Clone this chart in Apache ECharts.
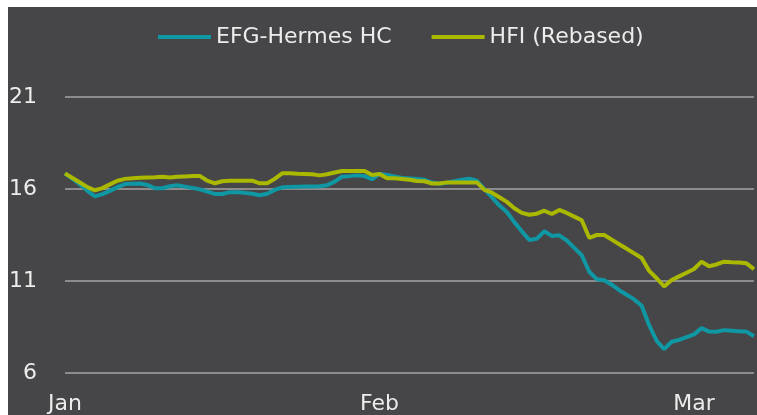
<!DOCTYPE html>
<html>
<head>
<meta charset="utf-8">
<script src="https://cdn.jsdelivr.net/npm/echarts@6/dist/echarts.min.js"></script>
<style>
  html, body { margin: 0; padding: 0; background: #fff; }
  #chart { width: 757px; height: 415px; }
</style>
</head>
<body>
<div id="chart"></div>
<script>
// month labels, one every 42 trading points
var months = ['Jan', 'Feb', 'Mar'];
var pointsPerMonth = 42;

var efgHermes = [
    16.85, 16.55, 16.25, 15.9, 15.6, 15.72, 15.9, 16.1, 16.27, 16.29,
    16.3, 16.22, 16.04, 16.04, 16.15, 16.2, 16.13, 16.06, 15.98, 15.86,
    15.73, 15.73, 15.83, 15.82, 15.79, 15.74, 15.66, 15.74, 15.95, 16.09,
    16.11, 16.12, 16.13, 16.14, 16.15, 16.2, 16.4, 16.67, 16.7, 16.74,
    16.7, 16.53, 16.82, 16.76, 16.68, 16.6, 16.57, 16.54, 16.5, 16.35,
    16.29, 16.34, 16.42, 16.5, 16.56, 16.45, 16.0, 15.55, 15.1, 14.75,
    14.2, 13.7, 13.23, 13.3, 13.7, 13.45, 13.48, 13.2, 12.8, 12.4,
    11.5, 11.1, 11.04, 10.8, 10.5, 10.25, 10.0, 9.65, 8.6, 7.75,
    7.3, 7.7, 7.8, 7.95, 8.1, 8.44, 8.25, 8.24, 8.33, 8.3,
    8.27, 8.25, 8.0
];

var hfiRebased = [
    16.85, 16.6, 16.35, 16.1, 15.93, 16.05, 16.25, 16.45, 16.55, 16.58,
    16.61, 16.63, 16.64, 16.66, 16.63, 16.66, 16.68, 16.7, 16.71, 16.45,
    16.31, 16.42, 16.45, 16.45, 16.45, 16.45, 16.31, 16.31, 16.55, 16.85,
    16.85, 16.83, 16.82, 16.8, 16.74, 16.8, 16.9, 16.98, 16.98, 16.98,
    16.98, 16.76, 16.82, 16.58, 16.58, 16.54, 16.5, 16.44, 16.42, 16.3,
    16.3, 16.36, 16.36, 16.36, 16.36, 16.36, 15.95, 15.8, 15.55, 15.3,
    14.95, 14.7, 14.6, 14.66, 14.82, 14.64, 14.86, 14.7, 14.5, 14.3,
    13.35, 13.5, 13.5, 13.25, 13.0, 12.75, 12.5, 12.25, 11.55, 11.15,
    10.7, 11.05, 11.25, 11.45, 11.65, 12.05, 11.8, 11.9, 12.05, 12.02,
    12.0, 11.96, 11.65
];

var categories = [];
for (var i = 0; i < efgHermes.length; i++) {
    var m = i / pointsPerMonth;
    categories.push(i % pointsPerMonth === 0 ? months[m] : '');
}

var textColor = '#ececec';
var font = 'DejaVu Sans';

var chart = echarts.init(document.getElementById('chart'));

option = {
    backgroundColor: '#ffffff',
    animation: false,
    graphic: [{
        type: 'rect',
        z: -100,
        silent: true,
        shape: { x: 8, y: 7, width: 760, height: 420 },
        style: { fill: '#464648' }
    }],
    legend: {
        top: 21,
        left: 153,
        itemWidth: 53,
        itemHeight: 4,
        itemGap: 40,
        icon: 'rect',
        textStyle: { color: textColor, fontFamily: font, fontSize: 22 },
        data: ['EFG-Hermes HC', 'HFI (Rebased)']
    },
    grid: {
        left: 65,
        right: 0,
        top: 97,
        bottom: 42
    },
    xAxis: {
        type: 'category',
        boundaryGap: false,
        data: categories,
        axisLine: { show: false },
        axisTick: { show: false },
        axisLabel: {
            interval: 0,
            margin: 20,
            color: textColor,
            fontFamily: font,
            fontSize: 22
        }
    },
    yAxis: {
        type: 'value',
        min: 6,
        max: 21,
        interval: 5,
        axisLine: { show: false },
        axisTick: { show: false },
        axisLabel: {
            margin: 28,
            color: textColor,
            fontFamily: font,
            fontSize: 22
        },
        splitLine: { lineStyle: { color: '#8c8c8c', width: 2 } }
    },
    series: [{
        name: 'EFG-Hermes HC',
        type: 'line',
        symbol: 'none',
        color: '#0f97a4',
        lineStyle: { width: 4, color: '#0f97a4' },
        data: efgHermes
    }, {
        name: 'HFI (Rebased)',
        type: 'line',
        symbol: 'none',
        color: '#aab800',
        lineStyle: { width: 4, color: '#aab800' },
        data: hfiRebased
    }]
};

chart.setOption(option);
</script>
</body>
</html>
